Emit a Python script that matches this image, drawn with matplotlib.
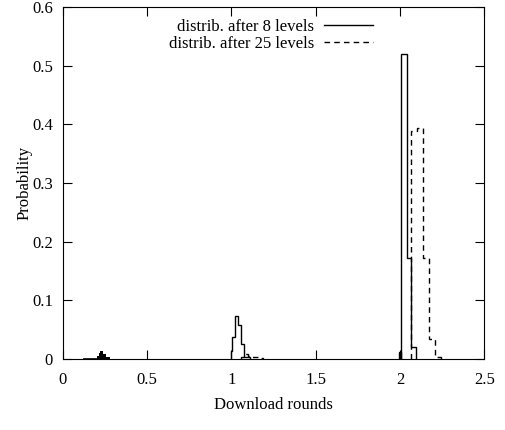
import matplotlib
matplotlib.use('Agg')
import matplotlib.pyplot as plt
from matplotlib.lines import Line2D

plt.rcParams['font.family'] = ['Liberation Serif', 'DejaVu Serif']

# bump near 0.22 (drawn filled, looks solid black in the original)
bump_edges = [0.12, 0.2015, 0.215, 0.221, 0.241, 0.257, 0.28]
bump_vals = [0.001, 0.005, 0.011, 0.0136, 0.008, 0.003]

# distribution after 8 levels (solid)
solid_edges = [0.9958, 1.0036, 1.023, 1.041, 1.059, 1.075, 1.11,
               1.995, 2.004, 2.008, 2.041, 2.065, 2.096]
solid_vals = [0.014, 0.037, 0.074, 0.058, 0.025, 0.004,
              0.0, 0.0125, 0.0, 0.52, 0.173, 0.021]

# distribution after 25 levels (dashed)
dash_edges = [1.055, 1.075, 1.10, 1.125, 1.16, 1.19, 2.065,
              2.104, 2.138, 2.173, 2.207, 2.242]
dash_vals = [0.004, 0.008, 0.006, 0.003, 0.001, 0.0,
             0.389, 0.394, 0.173, 0.034, 0.003]

xticks = [0, 0.5, 1, 1.5, 2, 2.5]
xticklabels = ['0', '0.5', '1', '1.5', '2', '2.5']
yticks = [0, 0.1, 0.2, 0.3, 0.4, 0.5, 0.6]
yticklabels = ['0', '0.1', '0.2', '0.3', '0.4', '0.5', '0.6']

fs = 12


def draw_runs(ax, vals, edges, **kw):
    # draw each run of non-zero bins on its own, so nothing runs along y=0
    start = None
    for i, v in enumerate(list(vals) + [0.0]):
        if v != 0.0 and start is None:
            start = i
        elif v == 0.0 and start is not None:
            ax.stairs(vals[start:i], edges[start:i + 1], **kw)
            start = None


fig = plt.figure(figsize=(5.06, 4.30), dpi=100)
ax = fig.add_axes([0.124, 0.165, 0.833, 0.819])

ax.stairs(bump_vals[1:], bump_edges[1:], fill=True, color='black', lw=0.8)
ax.stairs(bump_vals[:1], bump_edges[:2], color='black', lw=0.6)
draw_runs(ax, solid_vals, solid_edges, color='black', lw=1.0)
draw_runs(ax, dash_vals, dash_edges, color='black', lw=1.0,
          linestyle=(0, (4, 3)))

ax.set_xlim(0, 2.5)
ax.set_ylim(0, 0.6)
ax.set_xticks(xticks)
ax.set_xticklabels(xticklabels)
ax.set_yticks(yticks)
ax.set_yticklabels(yticklabels)
ax.tick_params(direction='in', top=True, right=True, length=6.5,
               width=0.8, labelsize=fs)
ax.tick_params(axis='x', pad=9)
ax.tick_params(axis='y', pad=7)
for s in ax.spines.values():
    s.set_linewidth(0.8)

ax.set_xlabel('Download rounds', fontsize=fs, labelpad=7)
ax.set_ylabel('Probability', fontsize=fs, labelpad=0)

# legend: text on the left, sample on the right (gnuplot style)
h1 = Line2D([], [], color='black', lw=1.0)
h2 = Line2D([], [], color='black', lw=1.0, linestyle=(0, (4, 3)))
ax.legend([h1, h2], ['distrib. after 8 levels', 'distrib. after 25 levels'],
          loc='upper right', bbox_to_anchor=(0.736, 0.965), frameon=False,
          markerfirst=False, fontsize=fs, handlelength=2.95,
          handletextpad=0.6, labelspacing=0.05, borderaxespad=0,
          borderpad=0)

fig.savefig('out.png', dpi=100)
